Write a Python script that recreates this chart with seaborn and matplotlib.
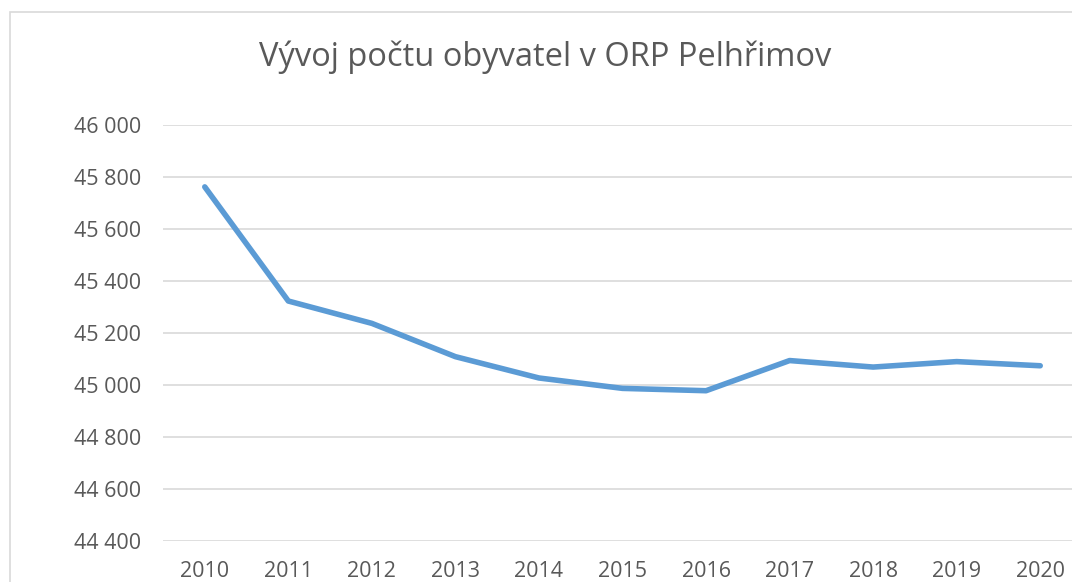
import pandas as pd
import matplotlib
matplotlib.use("Agg")
import matplotlib.pyplot as plt
import seaborn as sns
from matplotlib.ticker import FuncFormatter, MultipleLocator
from matplotlib.patches import Rectangle

# Data
years = [2010, 2011, 2012, 2013, 2014, 2015, 2016, 2017, 2018, 2019, 2020]
population = [45762, 45323, 45237, 45109, 45027, 44987, 44978, 45094, 45069, 45090, 45074]
title = "Vývoj počtu obyvatel v ORP Pelhřimov"

df = pd.DataFrame({"Rok": years, "Obyvatel": population})

sns.set_style("white")
plt.rcParams["font.family"] = ["Open Sans", "DejaVu Sans"]

grey = "#595959"
fig = plt.figure(figsize=(10.72, 5.82), dpi=100)
ax = fig.add_axes([163 / 1072, 1 - 541 / 582, 919 / 1072, 416 / 582])

sns.lineplot(data=df, x="Rok", y="Obyvatel", ax=ax, color="#5B9BD5",
             linewidth=4.0, solid_capstyle="round", solid_joinstyle="round")

ax.set_xlim(2009.5, 2020.5)
ax.set_ylim(44400, 46000)
ax.yaxis.set_major_locator(MultipleLocator(200))
ax.set_xticks(years)
ax.yaxis.set_major_formatter(FuncFormatter(lambda v, p: f"{v:,.0f}".replace(",", " ")))
ax.grid(axis="y", color="#D9D9D9", linewidth=1.2)
ax.grid(axis="x", visible=False)
ax.set_axisbelow(True)
for s in ax.spines.values():
    s.set_visible(False)
ax.tick_params(axis="both", length=0, labelsize=15.5, colors=grey)
ax.tick_params(axis="y", pad=16)
ax.tick_params(axis="x", pad=14.5)
ax.set_xlabel("")
ax.set_ylabel("")

fig.text(545 / 1072, 1 - 57 / 582, title, ha="center", va="center",
         fontsize=23.5, color=grey)

# chart border (cropped on the right and bottom)
fig.patches.append(Rectangle((10 / 1072, -0.1), 1.2, 1.1 - 12 / 582,
                             transform=fig.transFigure, fill=False,
                             edgecolor="#D9D9D9", linewidth=1.2))

fig.savefig("out.png", dpi=100, facecolor="white")
